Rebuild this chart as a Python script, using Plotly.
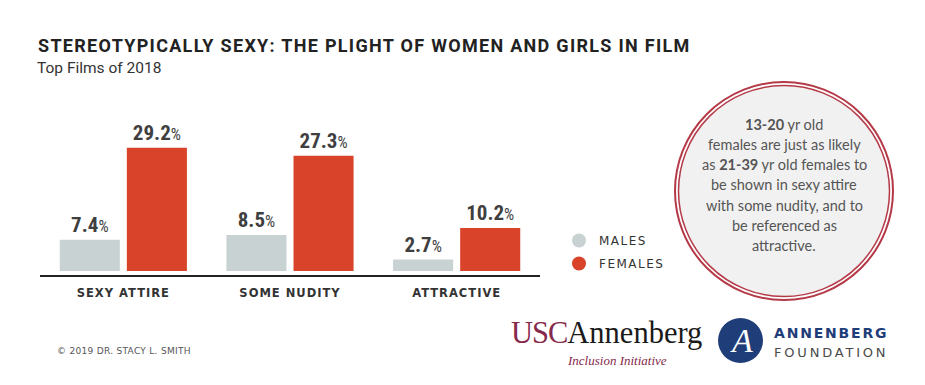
import plotly.graph_objects as go

categories = ["SEXY ATTIRE", "SOME NUDITY", "ATTRACTIVE"]
males = [7.4, 8.5, 2.7]
females = [29.2, 27.3, 10.2]
series_names = ["MALES", "FEMALES"]
title = "STEREOTYPICALLY SEXY: THE PLIGHT OF WOMEN AND GIRLS IN FILM"
subtitle = "Top Films of 2018"
note_lines = [
    "<b>13-20</b> yr old",
    "females are just as likely",
    "as <b>21-39</b> yr old females to",
    "be shown in sexy attire",
    "with some nudity, and to",
    "be referenced as",
    "attractive.",
]
footer = "© 2019 DR. STACY L. SMITH"

OFF = 8  # page body margin
W, H = 925 - OFF, 385 - OFF
PL, PR, PT, PB = 40, 540, 100, 275  # target page pixels
def px(x):
    return (x - PL) / (PR - PL)
def py(y):
    return (PB - y) / (PB - PT)

C_M = "#c9d2d2"
C_F = "#d8432a"
NARROW = "Roboto Condensed, Open Sans Condensed, Liberation Sans Narrow, Roboto"
GEO = "DejaVu Sans, Verdana, sans-serif"

def spaced(s, ls):
    return f"<span style='letter-spacing:{ls}px'>{s}</span>"

def pct(v):
    return f"<b>{v}</b><span style='font-size:16px'>%</span>"

fig = go.Figure()
for name, vals, col in [(series_names[0], males, C_M), (series_names[1], females, C_F)]:
    fig.add_trace(go.Bar(
        x=categories, y=vals, name=name, marker=dict(color=col, line=dict(width=0)),
        text=[pct(v) for v in vals], textposition="outside",
        textfont=dict(family=NARROW, size=21, color="#3f3f3f"),
        cliponaxis=False, showlegend=False, hoverinfo="skip",
    ))
for name, col, grp in [(series_names[0], C_M, "m"), (series_names[1], C_F, "f")]:
    fig.add_trace(go.Scatter(
        x=[None], y=[None], mode="markers", name=spaced(name, 1.5), legendgroup=grp,
        marker=dict(symbol="circle", size=14, color=col),
    ))

shapes = []
cx, cy = 784, 191
for r, w, fill in [(109, 2, "rgba(0,0,0,0)"), (105.5, 1.5, "#f1f1f1")]:
    shapes.append(dict(type="circle", xref="paper", yref="paper",
                       x0=px(cx - r), x1=px(cx + r), y0=py(cy + r), y1=py(cy - r),
                       line=dict(color="#b53a48", width=w), fillcolor=fill, layer="below"))
shapes.append(dict(type="circle", xref="paper", yref="paper",
                   x0=px(718), x1=px(763), y0=py(363), y1=py(318),
                   line=dict(width=0), fillcolor="#1f3d78"))

ann = []
ann.append(dict(x=px(36), y=py(45), xref="paper", yref="paper", xanchor="left", yanchor="middle",
                text=f"<b>{spaced(title, 1.3)}</b>", showarrow=False,
                font=dict(family="Roboto", size=18, color="#222222")))
ann.append(dict(x=px(35), y=py(68), xref="paper", yref="paper", xanchor="left", yanchor="middle",
                text=subtitle, showarrow=False,
                font=dict(family="Roboto", size=15.5, color="#333333")))
for i, line in enumerate(note_lines):
    ann.append(dict(x=px(784), y=py(124 + i * 20.3), xref="paper", yref="paper",
                    xanchor="center", yanchor="middle", text=line, showarrow=False,
                    font=dict(family="Lato", size=14.5, color="#555555")))
ann.append(dict(x=px(55), y=py(351), xref="paper", yref="paper", xanchor="left", yanchor="middle",
                text=spaced(footer, 0.3), showarrow=False,
                font=dict(family=GEO, size=9, color="#555555")))
ann.append(dict(x=px(509), y=py(333), xref="paper", yref="paper", xanchor="left", yanchor="middle",
                text="<span style='color:#86294a;letter-spacing:-1px'>USC</span>Annenberg", showarrow=False,
                font=dict(family="Liberation Serif", size=30.5, color="#1a1a1a")))
ann.append(dict(x=px(617), y=py(360), xref="paper", yref="paper", xanchor="center", yanchor="middle",
                text="<i>Inclusion Initiative</i>", showarrow=False,
                font=dict(family="Liberation Serif", size=13, color="#86294a")))
ann.append(dict(x=px(741), y=py(340), xref="paper", yref="paper", xanchor="center", yanchor="middle",
                text="<i>A</i>", showarrow=False,
                font=dict(family="Liberation Serif", size=34, color="#ffffff")))
ann.append(dict(x=px(772), y=py(333), xref="paper", yref="paper", xanchor="left", yanchor="middle",
                text=f"<b>{spaced('ANNENBERG', 1.8)}</b>", showarrow=False,
                font=dict(family=GEO, size=14, color="#1f3d78")))
ann.append(dict(x=px(772), y=py(352), xref="paper", yref="paper", xanchor="left", yanchor="middle",
                text=spaced("FOUNDATION", 2.8), showarrow=False,
                font=dict(family=GEO, size=13, color="#4a4a4a")))

fig.update_layout(
    width=W, height=H,
    margin=dict(l=PL - OFF, r=W - (PR - OFF), t=PT - OFF, b=H - (PB - OFF), pad=0),
    paper_bgcolor="white", plot_bgcolor="white",
    barmode="group", bargap=0.195, bargroupgap=0.1045,
    xaxis=dict(type="category", range=[-0.5, 2.5], showgrid=False, zeroline=False,
               showline=True, linecolor="#222222", linewidth=2, ticks="",
               tickvals=categories, ticktext=[f"<b>{spaced(c, 1.0)}</b>" for c in categories],
               tickfont=dict(family=GEO, size=11.5, color="#333333"), ticklabelstandoff=6,
               fixedrange=True),
    yaxis=dict(range=[-0.95, 40.52], visible=False, fixedrange=True),
    legend=dict(x=px(559), y=py(226), xanchor="left", yanchor="top",
                font=dict(family=GEO, size=12, color="#333333"),
                tracegroupgap=4, itemwidth=30, bgcolor="rgba(0,0,0,0)"),
    shapes=shapes, annotations=ann,
    showlegend=True,
)

fig.write_html("out.html")
